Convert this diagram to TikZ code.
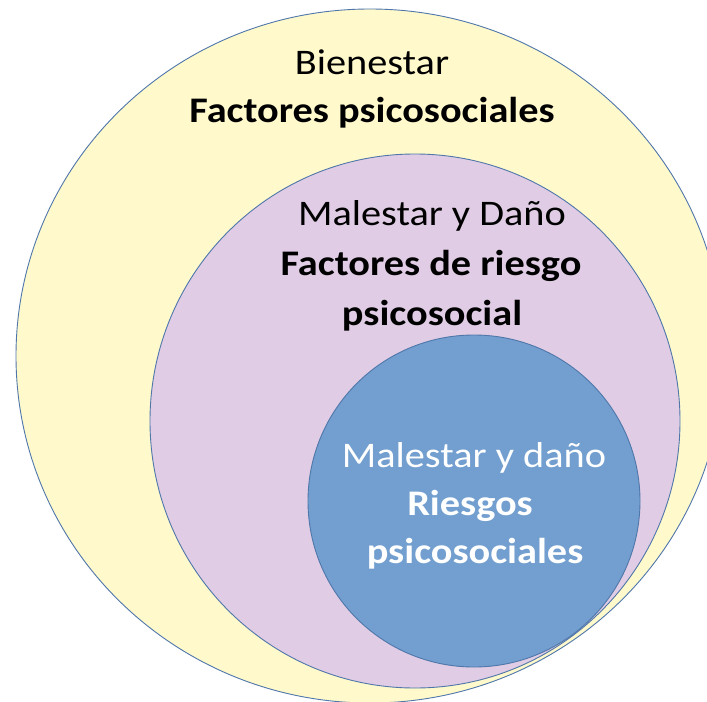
\documentclass[tikz,border=0pt]{standalone}
\usepackage{fontspec}
\setmainfont{Carlito}[FakeStretch=1.12]
\definecolor{edgeblue}{HTML}{4F77AA}
\definecolor{outerfill}{HTML}{FFF9CC}
\definecolor{midfill}{HTML}{E0CCE4}
\definecolor{innerfill}{HTML}{729FCF}
\tikzset{
  ring/.style={draw=edgeblue, line width=0.9bp},
  lbl/.style={anchor=base, inner sep=0pt, font=\fontsize{36bp}{49bp}\selectfont},
  lblb/.style={lbl, font=\fontsize{36bp}{49bp}\selectfont\bfseries},
}
\begin{document}
\begin{tikzpicture}[x=1bp, y=-1bp]
\useasboundingbox (0,0) rectangle (707,702);
\fill[white] (0,0) rectangle (707,702);
% circles
\draw[ring, fill=outerfill] (370,356) ellipse [x radius=354, y radius=347];
\draw[ring, fill=midfill] (415,421) ellipse [x radius=265, y radius=267];
\draw[ring, fill=innerfill] (474,501) circle [radius=166];
% texts
\node[lbl] (t1) at (372,75) {Bienestar};
\node[lblb] (t2) at (372,123) {Factores psicosociales};
\node[lbl] (t3) at (432,225) {Malestar y Daño};
\node[lblb] (t4) at (431,275) {Factores de riesgo};
\node[lblb] (t5) at (432,325) {psicosocial};
\node[lbl, text=white] (t6) at (474,467) {Malestar y daño};
\node[lblb, text=white] (t7) at (470,515) {Riesgos};
\node[lblb, text=white] (t8) at (475,563) {psicosociales};
\end{tikzpicture}
\end{document}
